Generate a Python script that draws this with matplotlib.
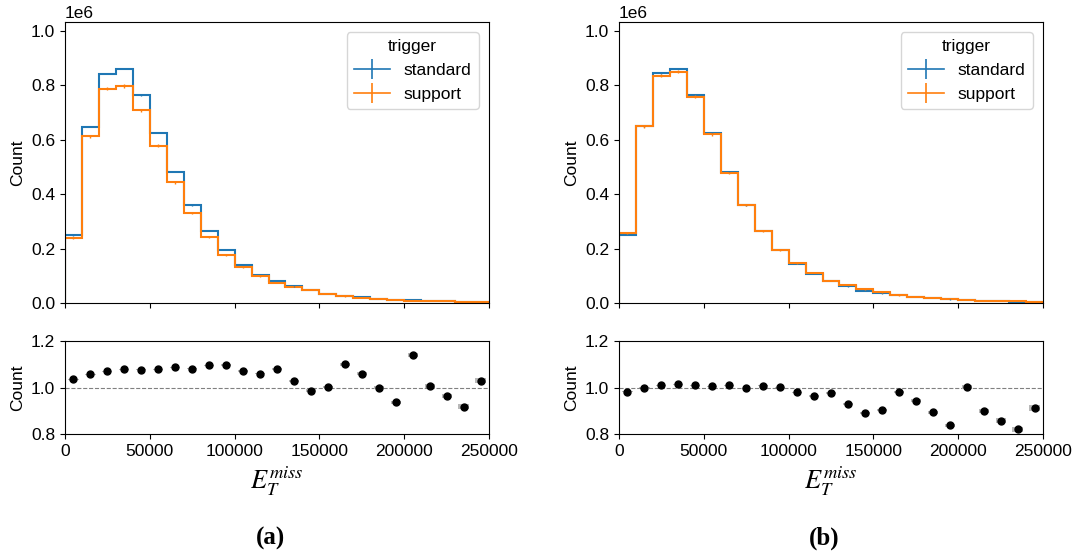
import numpy as np
import matplotlib
matplotlib.use("Agg")
import matplotlib.pyplot as plt
from matplotlib.lines import Line2D

plt.rcParams['font.family'] = ['Liberation Sans', 'DejaVu Sans']
plt.rcParams['mathtext.fontset'] = 'stix'

# binning: 25 bins of 10000 from 0 to 250000
edges = np.arange(0, 260000, 10000)

# (a) counts
std_a = [249000, 647000, 843000, 862000, 763000, 625000, 482000, 359000, 265000, 194000,
         141000, 104000, 80000, 61000, 47000, 34000, 27000, 21000, 16000, 12000,
         10000, 7500, 6000, 5000, 4000]
sup_a = [240000, 613000, 788000, 798000, 709000, 578000, 443000, 332000, 241000, 176000,
         132000, 98000, 74000, 59000, 48000, 34000, 24500, 19800, 16000, 12800,
         8800, 7400, 6200, 5500, 3900]
ratio_a = [1.036, 1.057, 1.070, 1.079, 1.077, 1.079, 1.087, 1.080, 1.096, 1.096,
           1.071, 1.060, 1.079, 1.029, 0.987, 1.001, 1.100, 1.059, 0.999, 0.936,
           1.139, 1.007, 0.964, 0.917, 1.030]
rerr_a = [0.002, 0.002, 0.002, 0.002, 0.002, 0.002, 0.002, 0.002, 0.002, 0.003,
          0.003, 0.003, 0.004, 0.004, 0.005, 0.005, 0.006, 0.006, 0.007, 0.008,
          0.009, 0.009, 0.010, 0.011, 0.012]

# (b) counts
std_b = [251000, 650000, 844000, 862000, 765000, 624000, 482000, 359000, 265000, 194000,
         143000, 107000, 80000, 61000, 45000, 35000, 28000, 22000, 17000, 13000,
         10000, 8000, 6000, 5000, 4000]
sup_b = [256000, 650000, 836000, 850000, 758000, 620000, 477000, 360000, 263000, 194000,
         146000, 111000, 82000, 66000, 50500, 38800, 28500, 23300, 19000, 15500,
         10000, 8900, 7000, 6100, 4400]
ratio_b = [0.981, 1.000, 1.010, 1.014, 1.009, 1.006, 1.010, 0.997, 1.007, 1.001,
           0.979, 0.963, 0.977, 0.930, 0.891, 0.903, 0.981, 0.944, 0.894, 0.837,
           1.003, 0.900, 0.857, 0.821, 0.911]
rerr_b = [0.002, 0.002, 0.002, 0.002, 0.002, 0.002, 0.002, 0.002, 0.002, 0.003,
          0.003, 0.003, 0.004, 0.004, 0.005, 0.005, 0.006, 0.006, 0.007, 0.008,
          0.009, 0.009, 0.010, 0.011, 0.012]

sup_err = [3000, 5000, 6000, 6000, 5500, 5000, 4500, 4000, 3500, 3000,
           2500, 2000, 2000, 1500, 1500, 1000, 1000, 1000, 800, 800,
           600, 600, 500, 500, 400]

blue = '#1f77b4'
orange = '#ff7f0e'
centers = (edges[:-1] + edges[1:]) / 2
fs = 12.5

fig = plt.figure(figsize=(10.82, 5.53), dpi=100)
W, H = 1082, 553


def ax_px(x0, x1, ytop, ybot):
    return fig.add_axes([x0 / W, 1 - ybot / H, (x1 - x0) / W, (ybot - ytop) / H])


panels = [
    (65, 489, std_a, sup_a, ratio_a, rerr_a, '(a)'),
    (619, 1043, std_b, sup_b, ratio_b, rerr_b, '(b)'),
]

for x0, x1, std, sup, ratio, rerr, tag in panels:
    top = ax_px(x0, x1, 22, 303)
    bot = ax_px(x0, x1, 341, 434)

    top.stairs(std, edges, color=blue, lw=1.5)
    top.errorbar(centers, std, yerr=[e / 3 for e in sup_err], fmt='none', ecolor=blue, elinewidth=1)
    top.stairs(sup, edges, color=orange, lw=1.5)
    top.errorbar(centers, sup, yerr=sup_err, fmt='none', ecolor=orange, elinewidth=1)
    top.set_xlim(0, 250000)
    top.set_ylim(0, 1.033e6)
    top.set_yticks([0, 0.2e6, 0.4e6, 0.6e6, 0.8e6, 1.0e6])
    top.tick_params(labelbottom=False, labelsize=fs)
    top.set_ylabel('Count', fontsize=fs)
    top.yaxis.get_offset_text().set_fontsize(fs)
    handles = [Line2D([0], [0], color=blue, lw=1.2, marker='|', markersize=15, markeredgewidth=1.2),
               Line2D([0], [0], color=orange, lw=1.2, marker='|', markersize=15, markeredgewidth=1.2)]
    top.legend(handles, ['standard', 'support'], title='trigger', loc='upper right',
               fontsize=fs, title_fontsize=fs, handlelength=2.1, borderaxespad=0.6)

    bot.bar(centers, [2 * e for e in rerr], bottom=[r - e for r, e in zip(ratio, rerr)],
            width=6000, color='#b8b8b8', zorder=2)
    bot.plot(centers, ratio, 'o', color='black', ms=5, zorder=3)
    bot.axhline(1.0, color='gray', ls='--', lw=0.8, zorder=1)
    bot.set_xlim(0, 250000)
    bot.set_ylim(0.8, 1.2)
    bot.set_yticks([0.8, 1.0, 1.2])
    bot.tick_params(labelsize=fs)
    bot.set_ylabel('Count', fontsize=fs)
    bot.set_xlabel(r'$E_T^{miss}$', fontsize=19, labelpad=4)

    fig.text((x0 + x1) / 2 / W - 0.006, 1 - 538 / H, tag, ha='center', va='center',
             fontsize=18, fontweight='bold', family='Liberation Serif')

fig.savefig('out.png', dpi=100)
